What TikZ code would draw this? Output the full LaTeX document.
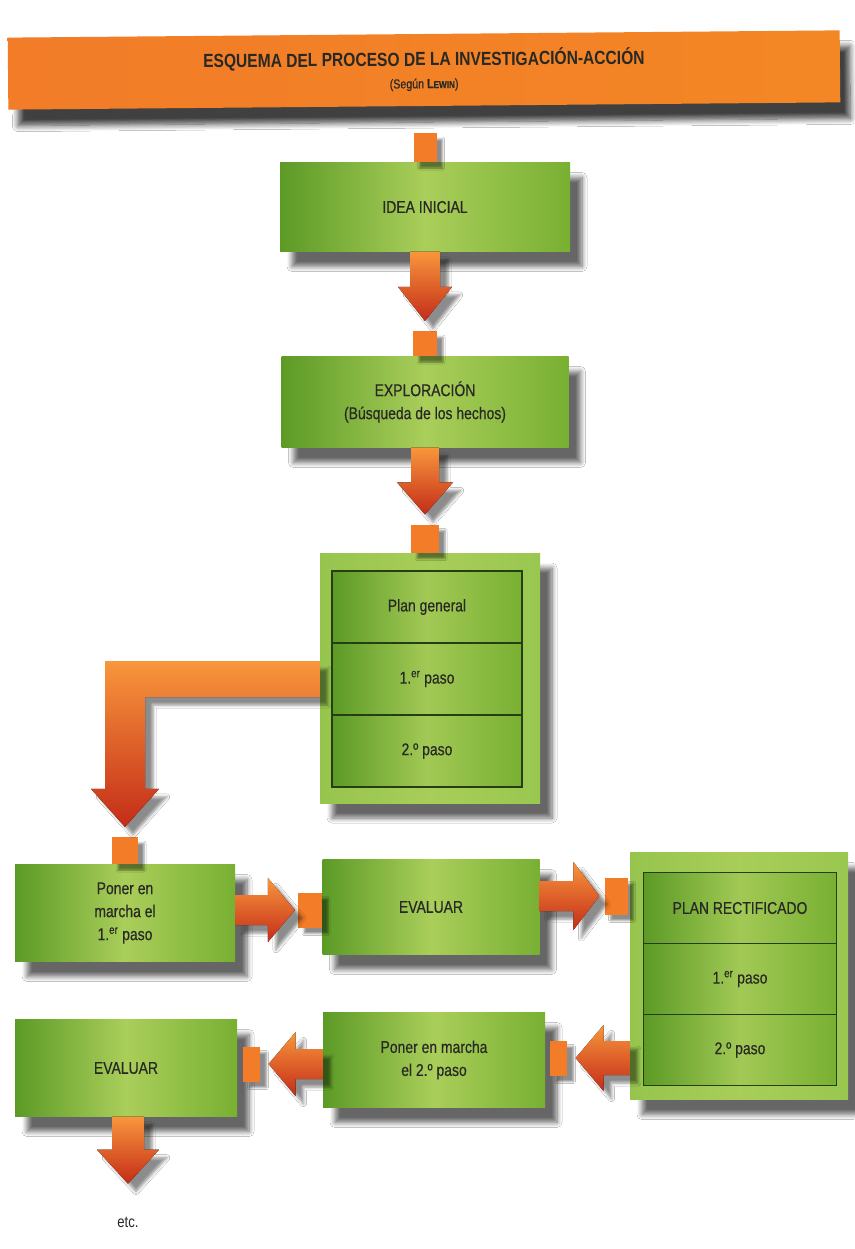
\documentclass[tikz,border=0pt]{standalone}
\usepackage{fontspec}
\setmainfont{Liberation Sans}[FakeStretch=0.82]
\newfontfamily\boxfont{Liberation Sans}[FakeStretch=0.82,FakeBold=0.5]
\usetikzlibrary{calc,shadows,shadows.blur}
\definecolor{gdark}{RGB}{92,154,38}
\definecolor{glight}{RGB}{170,206,90}
\definecolor{gmid}{RGB}{120,176,50}
\definecolor{pale}{RGB}{160,204,84}
\definecolor{orng}{RGB}{242,124,40}
\definecolor{orngl}{RGB}{248,150,60}
\definecolor{ared}{RGB}{196,44,24}
\definecolor{txt}{RGB}{40,40,36}
\definecolor{rowline}{RGB}{38,62,22}
\newcommand\arrV[5]{\fill[arrsh] ($(#1)+(-#3,0)$) -- ($(#2)+(-#3,-#5)$) -- ($(#2)+(-#4,-#5)$) -- (#2) -- ($(#2)+(#4,-#5)$) -- ($(#2)+(#3,-#5)$) -- ($(#1)+(#3,0)$) -- cycle;}
\newcommand\arrR[5]{\fill[arrsh] ($(#1)+(0,-#3)$) -- ($(#2)+(-#5,-#3)$) -- ($(#2)+(-#5,-#4)$) -- (#2) -- ($(#2)+(-#5,#4)$) -- ($(#2)+(-#5,#3)$) -- ($(#1)+(0,#3)$) -- cycle;}
\newcommand\arrL[5]{\fill[arrsh] ($(#1)+(0,-#3)$) -- ($(#2)+(#5,-#3)$) -- ($(#2)+(#5,-#4)$) -- (#2) -- ($(#2)+(#5,#4)$) -- ($(#2)+(#5,#3)$) -- ($(#1)+(0,#3)$) -- cycle;}
\begin{document}
\begin{tikzpicture}[x=1pt,y=-1pt,
  shad/.style={blur shadow={shadow xshift=12pt,shadow yshift=-15pt,shadow blur radius=5pt,shadow blur steps=8,shadow opacity=60}},
  gbox/.style={shad,left color=gdark,right color=gmid,middle color=glight,inner sep=2pt,
     text=txt,align=center,font=\boxfont\fontsize{17}{23}\selectfont},
  obox/.style={shad,left color=pale!85!gdark,right color=pale!90!gdark,middle color=glight!80!pale,inner sep=0pt},
  row/.style={draw=rowline,line width=1.1pt,left color=gdark,right color=gmid,middle color=glight!90!gdark,
     text=txt,align=center,font=\boxfont\fontsize{17}{23}\selectfont},
  sq/.style={fill=orng,inner sep=0pt,blur shadow={shadow xshift=6pt,shadow yshift=-6pt,shadow blur radius=2pt,shadow opacity=45}},
  arrsh/.style={top color=orngl,bottom color=ared,blur shadow={shadow xshift=8pt,shadow yshift=-8pt,shadow blur radius=3pt,shadow opacity=45}}]
\fill[white] (0,0) rectangle (854,1249);
% banner
\node[rotate=0.5,minimum width=832pt,minimum height=72pt,inner sep=0pt,
  left color=orng,right color=orng!92!yellow,
  blur shadow={shadow xshift=10pt,shadow yshift=-16pt,shadow blur radius=6pt,shadow blur steps=8,shadow opacity=75},
  align=center,text=txt] (banner) at (424,70)
  {{\fontsize{19}{22}\selectfont\bfseries ESQUEMA DEL PROCESO DE LA INVESTIGACIÓN-ACCIÓN}\\[8pt]
   {\boxfont\fontsize{13}{15}\selectfont (Según {\bfseries L\fontsize{10}{12}\selectfont EWIN})}};
% main boxes
\node[gbox,minimum width=290pt,minimum height=89pt] (idea) at (425,207) {IDEA INICIAL};
\node[gbox,minimum width=287pt,minimum height=91pt] (expl) at (425,402) {EXPLORACIÓN\\(Búsqueda de los hechos)};
\node[obox,minimum width=220pt,minimum height=250pt] (plan) at (430,678) {};
\node[row,minimum width=190pt,minimum height=72pt] (pg1) at (427,607) {Plan general};
\node[row,minimum width=190pt,minimum height=72pt] (pg2) at (427,679) {1.\textsuperscript{er} paso};
\node[row,minimum width=190pt,minimum height=72pt] (pg3) at (427,751) {2.º paso};
\node[gbox,minimum width=220pt,minimum height=97pt] (pon1) at (125,913) {Poner en\\marcha el\\1.\textsuperscript{er} paso};
\node[gbox,minimum width=217pt,minimum height=95pt] (ev1) at (431,907) {EVALUAR};
\node[obox,minimum width=218pt,minimum height=247pt] (planr) at (739,976) {};
\node[row,minimum width=193pt,minimum height=71pt] (pr1) at (740,908) {PLAN RECTIFICADO};
\node[row,minimum width=193pt,minimum height=71pt] (pr2) at (740,979) {1.\textsuperscript{er} paso};
\node[row,minimum width=193pt,minimum height=71pt] (pr3) at (740,1050) {2.º paso};
\node[gbox,minimum width=222pt,minimum height=95pt] (pon2) at (434,1060) {Poner en marcha\\el 2.º paso};
\node[gbox,minimum width=222pt,minimum height=97pt] (ev2) at (126,1068) {EVALUAR};
% squares
\node[sq,minimum width=23pt,minimum height=29pt,anchor=south] (sq0) at (idea.north) {};
\node[sq,minimum width=24pt,minimum height=25pt,anchor=south] (sq1) at (expl.north) {};
\node[sq,minimum width=28pt,minimum height=28pt,anchor=south] (sq2) at (plan.north -| expl) {};
\node[sq,minimum width=26pt,minimum height=27pt,anchor=south] (sq3) at (pon1.north) {};
\node[sq,minimum width=24pt,minimum height=35pt,anchor=east] (sq4) at ($(ev1.west)+(0,3)$) {};
\node[sq,minimum width=23pt,minimum height=37pt,anchor=east] (sq5) at ($(planr.west)+(-2,-80)$) {};
\node[sq,minimum width=17pt,minimum height=35pt,anchor=west] (sq6) at ($(pon2.east)+(5,-2)$) {};
\node[sq,minimum width=17pt,minimum height=35pt,anchor=west] (sq7) at ($(ev2.east)+(6,-4)$) {};
% arrows
\coordinate (t1) at ($(sq1.north)+(0,-10)$);
\arrV{idea.south}{t1}{15}{27}{34}
\coordinate (t2) at ($(sq2.north)+(0,-10)$);
\arrV{expl.south}{t2}{14}{28}{32}
% L arrow
\coordinate (ls) at (plan.west |- pg2);
\coordinate (lt) at ($(sq3.north)+(0,-10)$);
\coordinate (lc) at (lt |- ls);
\fill[arrsh] ($(ls)+(0,-18)$) -- ($(lc)+(-20,-18)$) -- ($(lt)+(-20,-38)$) -- ($(lt)+(-34,-38)$) -- (lt)
  -- ($(lt)+(34,-38)$) -- ($(lt)+(20,-38)$) -- ($(lc)+(20,18)$) -- ($(ls)+(0,18)$) -- cycle;
\coordinate (s3) at (pon1.east |- sq4);
\coordinate (t3) at ($(sq4.west)+(-3,0)$);
\arrR{s3}{t3}{15}{32}{27}
\coordinate (s4) at (ev1.east |- sq5);
\coordinate (t4) at ($(sq5.west)+(-5,0)$);
\arrR{s4}{t4}{15}{34}{26}
\coordinate (s5) at (planr.west |- sq6);
\coordinate (t5) at ($(sq6.east)+(8,0)$);
\arrL{s5}{t5}{17}{33}{28}
\coordinate (s6) at (pon2.west |- sq7);
\coordinate (t6) at ($(sq7.east)+(8,0)$);
\arrL{s6}{t6}{15}{32}{27}
\coordinate (t7) at ($(ev2.south)+(2,67)$);
\arrV{ev2.south -| t7}{t7}{16}{31}{34}
\node[text=txt,font=\fontsize{16}{18}\selectfont] (etc) at (128,1222) {etc.};
\end{tikzpicture}
\end{document}
